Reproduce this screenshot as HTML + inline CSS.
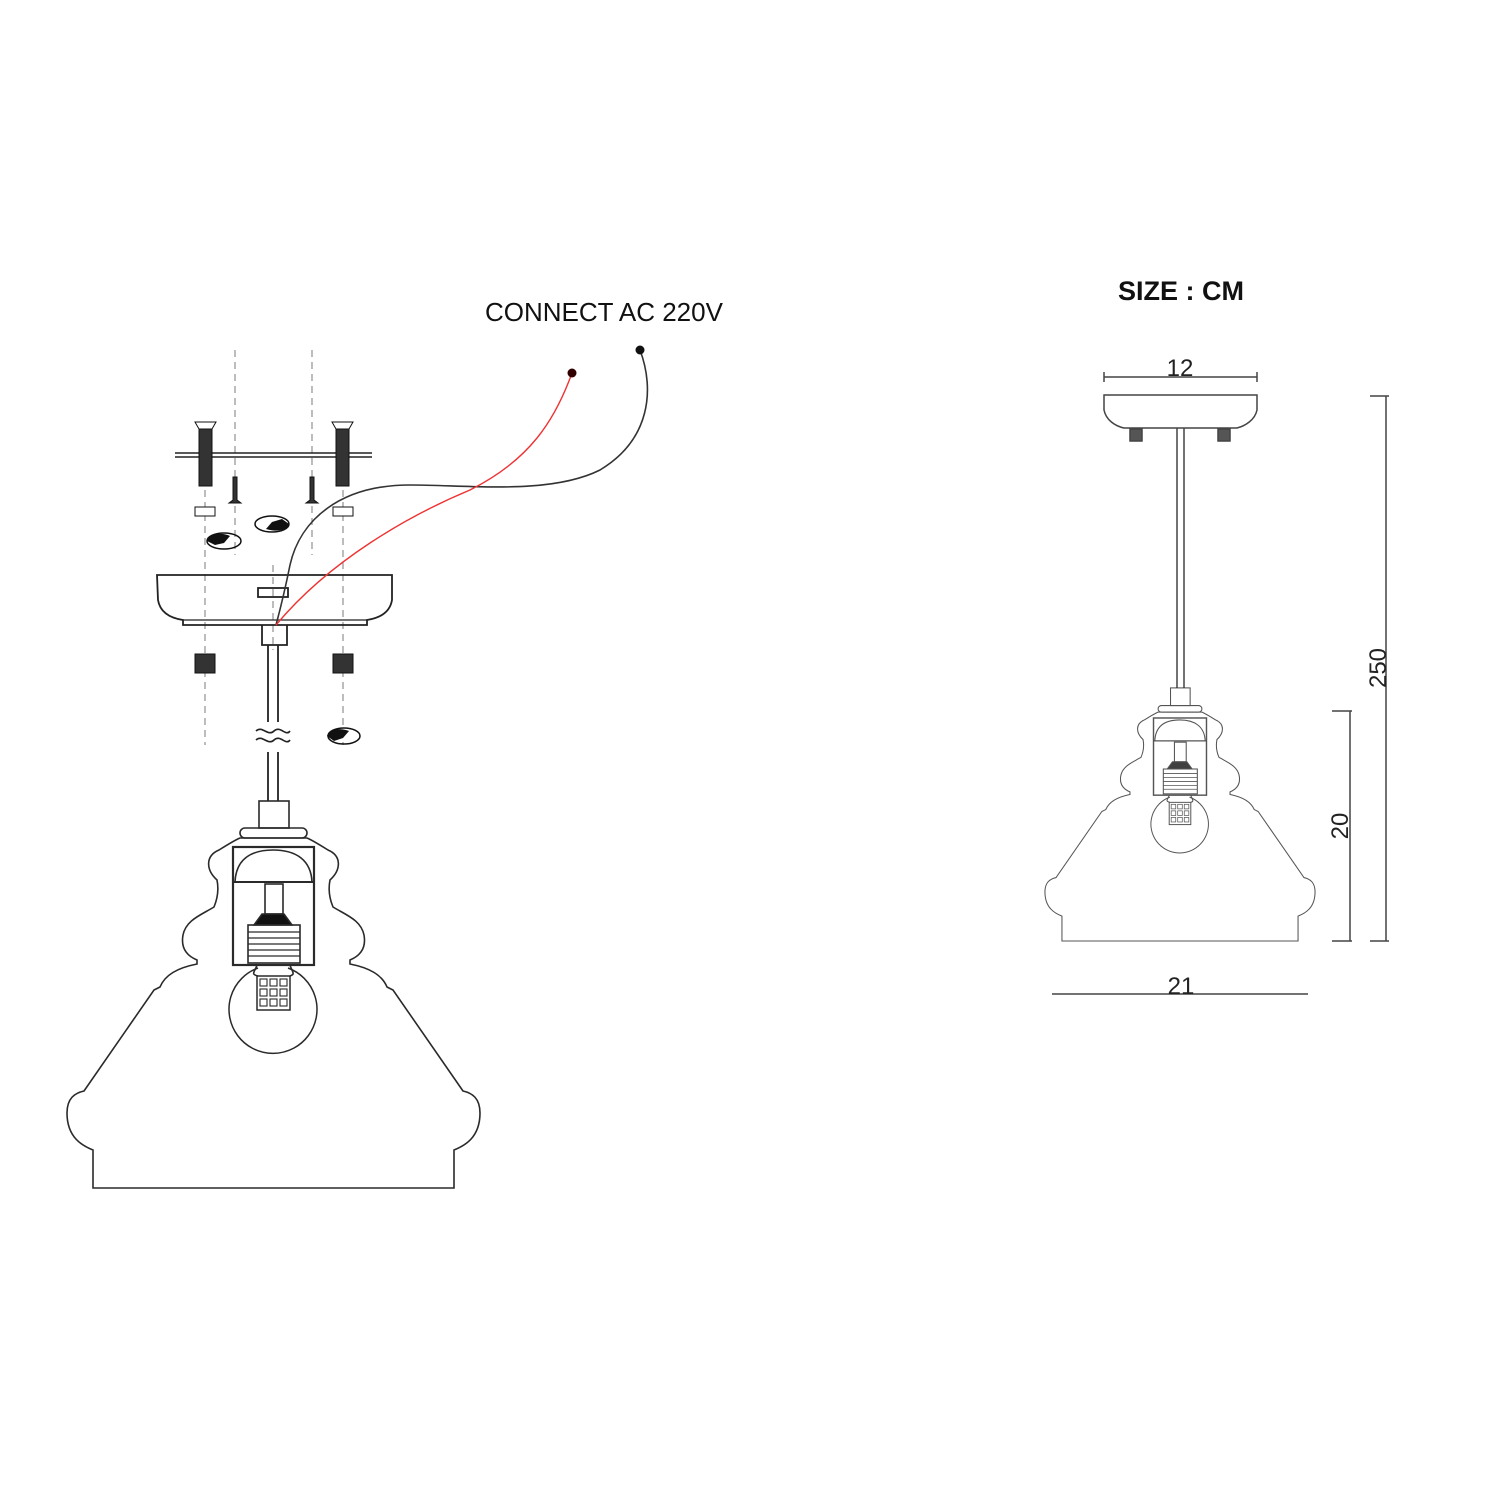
<!DOCTYPE html>
<html><head><meta charset="utf-8"><style>
html,body{margin:0;padding:0;background:#fff}
svg{display:block}
text{font-family:"Liberation Sans",sans-serif}
</style></head><body>
<svg width="1500" height="1500" viewBox="0 0 1500 1500" xmlns="http://www.w3.org/2000/svg">
<defs>
<g id="lamp" fill="none" stroke="#2a2a2a" stroke-width="1.6">
  <path d="M93,1188 L454,1188 L454,1150 C464,1146 480,1138 480,1113 C480,1098 472,1093 463,1091 L393,990 L387,987 C382,975 370,968 350,964 L350,960 C362,955 366,946 364,935 C361,920 346,915 333,907 C328,895 329,885 330,880 C341,870 342,856 328,850 C320,845 312,840 307,838 L240,838 C235,840 227,845 219,850 C205,856 206,870 217,880 C218,885 219,895 214,907 C201,915 186,920 183,935 C181,946 185,955 197,960 L197,964 C177,968 165,975 160,987 L154,990 L84,1091 C75,1093 67,1098 67,1113 C67,1138 83,1146 93,1150 Z"/>
  <rect x="240" y="828" width="67" height="10" rx="5"/>
  <rect x="259" y="801" width="30" height="27"/>
  <rect x="233" y="847" width="81" height="118" stroke-width="2.2"/>
  <line x1="233" y1="882" x2="314" y2="882" stroke-width="2"/>
  <path d="M235,882 C236,860 250,850 273,850 C296,850 311,860 312,882"/>
  <rect x="265" y="884" width="18" height="30"/>
  <path d="M262,914 L284,914 L292,925 L254,925 Z" fill="#111"/>
  <rect x="248" y="925" width="52" height="38"/>
  <g stroke-width="1.2"><line x1="248" y1="932" x2="300" y2="932"/><line x1="248" y1="938" x2="300" y2="938"/><line x1="248" y1="944" x2="300" y2="944"/><line x1="248" y1="950" x2="300" y2="950"/><line x1="248" y1="956" x2="300" y2="956"/></g>
  <path d="M257,965 C255,972 250,974 258,976 M290,976 C296,974 292,972 290,965"/>
  <path d="M258,968 A44,44 0 1 0 288,968" stroke-width="1.5"/>
  <rect x="257" y="976" width="33" height="34" stroke-width="1.5"/>
  <g stroke-width="1.1"><rect x="260" y="979" width="7" height="7"/><rect x="270" y="979" width="7" height="7"/><rect x="280" y="979" width="7" height="7"/><rect x="260" y="989" width="7" height="7"/><rect x="270" y="989" width="7" height="7"/><rect x="280" y="989" width="7" height="7"/><rect x="260" y="999" width="7" height="7"/><rect x="270" y="999" width="7" height="7"/><rect x="280" y="999" width="7" height="7"/></g>
</g>
</defs>

<text x="485" y="321" font-size="26" fill="#111">CONNECT AC 220V</text>
<g stroke="#999" stroke-width="1.3" stroke-dasharray="7,5" fill="none">
  <line x1="235" y1="350" x2="235" y2="555"/>
  <line x1="312" y1="350" x2="312" y2="555"/>
  <line x1="205" y1="490" x2="205" y2="745"/>
  <line x1="343" y1="490" x2="343" y2="745"/>
  <line x1="273" y1="565" x2="273" y2="650"/>
</g>
<g stroke="#222" stroke-width="1.5" fill="none">
  <line x1="175" y1="453" x2="372" y2="453"/>
  <line x1="175" y1="457" x2="372" y2="457"/>
</g>
<g fill="#333" stroke="#111" stroke-width="1">
  <rect x="199" y="428" width="13" height="58"/>
  <path d="M195,422 L216,422 L212,429 L199,429 Z" fill="#fff"/>
  <rect x="336" y="428" width="13" height="58"/>
  <path d="M332,422 L353,422 L349,429 L336,429 Z" fill="#fff"/>
  <path d="M233,477 L237,477 L237,500 L241,503 L229,503 L233,500 Z"/>
  <path d="M310,477 L314,477 L314,500 L318,503 L306,503 L310,500 Z"/>
  <rect x="195" y="507" width="20" height="9" fill="#fff"/>
  <rect x="333" y="507" width="20" height="9" fill="#fff"/>
  <rect x="195" y="654" width="20" height="19"/>
  <rect x="333" y="654" width="20" height="19"/>
</g>
<g fill="none" stroke="#111" stroke-width="1.5">
  <ellipse cx="224" cy="541" rx="17" ry="8"/>
  <ellipse cx="272" cy="524" rx="17" ry="8"/>
  <ellipse cx="344" cy="736" rx="16" ry="8"/>
</g>
<g fill="#111">
  <path d="M207,541 C209,533 222,532 230,536 L224,543 L215,545 Z"/>
  <path d="M289,524 C287,531 275,532 266,529 L272,522 L282,519 Z"/>
  <path d="M327,736 C329,728 341,728 349,731 L343,738 L334,741 Z"/>
</g>
<g fill="none" stroke="#222" stroke-width="1.8">
  <path d="M157,575 L392,575 L392,600 C390,612 380,618 367,620 L367,625 L183,625 L183,620 C170,618 160,612 158,600 Z"/>
  <line x1="183" y1="620" x2="367" y2="620" stroke-width="1.2"/>
  <rect x="258" y="588" width="30" height="9"/>
  <path d="M262,625 L262,645 L287,645 L287,625"/>
  <line x1="268" y1="645" x2="268" y2="722"/>
  <line x1="278" y1="645" x2="278" y2="722"/>
  <line x1="268" y1="752" x2="268" y2="801"/>
  <line x1="278" y1="752" x2="278" y2="801"/>
</g>
<g fill="none" stroke="#222" stroke-width="1.6">
  <path d="M256,731 C262,725 268,737 274,731 C280,725 286,737 290,731"/>
  <path d="M256,740 C262,734 268,746 274,740 C280,734 286,746 290,740"/>
</g>
<path d="M640,350 C655,390 650,440 600,470 C550,495 470,485 410,485 C340,485 300,520 290,565 C285,590 280,610 276,625" fill="none" stroke="#333" stroke-width="1.6"/>
<path d="M572,373 C555,420 530,460 470,490 C410,515 330,560 276,625" fill="none" stroke="#e33" stroke-width="1.4"/>
<circle cx="640" cy="350" r="4.5" fill="#111"/>
<circle cx="572" cy="373" r="4.5" fill="#300"/>
<use href="#lamp"/>

<text x="1181" y="300" font-size="27" font-weight="bold" text-anchor="middle" fill="#111">SIZE : CM</text>
<g stroke="#444" stroke-width="1.5" fill="none">
  <line x1="1104" y1="377" x2="1257" y2="377"/><line x1="1104" y1="372" x2="1104" y2="382"/><line x1="1257" y1="372" x2="1257" y2="382"/>
  <path d="M1104,395 L1257,395 L1257,410 C1255,420 1245,426 1237,428 L1124,428 C1115,426 1106,420 1104,410 Z"/>
  <rect x="1130" y="429" width="12" height="12" fill="#555"/>
  <rect x="1218" y="429" width="12" height="12" fill="#555"/>
  <line x1="1177" y1="428" x2="1177" y2="688"/><line x1="1184" y1="428" x2="1184" y2="688"/>
  <line x1="1370" y1="396" x2="1389" y2="396"/><line x1="1386" y1="396" x2="1386" y2="941"/><line x1="1370" y1="941" x2="1389" y2="941"/>
  <line x1="1332" y1="711" x2="1352" y2="711"/><line x1="1350" y1="711" x2="1350" y2="941"/><line x1="1332" y1="941" x2="1352" y2="941"/>
  <line x1="1052" y1="994" x2="1308" y2="994"/>
</g>
<g transform="translate(1180,941) scale(0.654) translate(-273.5,-1188)" opacity="0.8"><use href="#lamp"/></g>
<text x="1180" y="376" font-size="24" text-anchor="middle" fill="#222">12</text>
<text x="1181" y="994" font-size="24" text-anchor="middle" fill="#222">21</text>
<text transform="translate(1386,668) rotate(-90)" font-size="24" text-anchor="middle" fill="#222">250</text>
<text transform="translate(1348,826) rotate(-90)" font-size="24" text-anchor="middle" fill="#222">20</text>
</svg>
</body></html>
